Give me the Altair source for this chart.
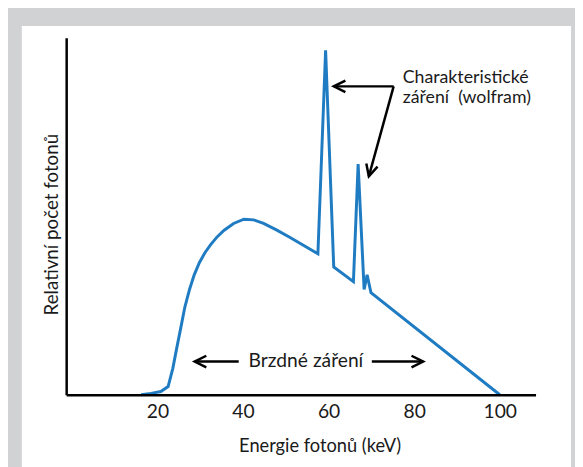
import math
import altair as alt
import pandas as pd

# ---- data ----
energy = [16.2, 18.5, 20.8, 22.5, 23.6, 24.5, 25.4, 26.4, 27.5, 28.6, 29.8, 31.1,
          32.4, 34.0, 35.6, 37.8, 40.2, 42.5, 44.8, 47.8, 50.8, 57.5, 59.3, 61.2,
          65.8, 66.9, 68.3, 69.0, 69.9, 100.0]
counts = [0.0, 0.4, 0.9, 2.3, 7.4, 13.0, 18.4, 24.5, 29.5, 33.6, 37.0, 39.8,
          42.0, 44.3, 46.1, 48.0, 49.2, 49.0, 48.0, 46.2, 44.2, 39.5, 96.5, 35.8,
          31.7, 64.6, 29.5, 33.6, 28.6, 0.0]
tick_values = [20, 40, 60, 80, 100]

x_title = "Energie fotonů (keV)"
y_title = "Relativní počet fotonů"
char_label = ["Charakteristické", "záření \u00a0(wolfram)"]
brems_label = "Brzdné záření"

# annotation arrows (tail -> tip) in data units
arrow_x1 = [75.2, 75.2, 39.0, 70.1]
arrow_y1 = [86.4, 86.4, 9.3, 9.3]
arrow_x2 = [61.2, 69.4, 28.7, 82.1]
arrow_y2 = [86.4, 61.2, 9.3, 9.3]

# ---- layout ----
W, H = 476, 362
XDOM = [-1.32, 108.36]
YDOM = [0, 100]
PAD = {"left": 59, "top": 27, "right": 40, "bottom": 70}
FONT = "Lato"
TXT = "#1a1a1a"

kx = W / (XDOM[1] - XDOM[0])
ky = H / (YDOM[1] - YDOM[0])

df = pd.DataFrame({"energy": energy, "count": counts})
arrows = pd.DataFrame({"x": arrow_x1, "y": arrow_y1, "x2": arrow_x2, "y2": arrow_y2})
arrows["angle"] = [
    (math.degrees(math.atan2(-(y2 - y1) * ky, (x2 - x1) * kx)) + 360) % 360
    for x1, y1, x2, y2 in zip(arrow_x1, arrow_y1, arrow_x2, arrow_y2)
]

xs = alt.Scale(domain=XDOM, nice=False, zero=False)
ys = alt.Scale(domain=YDOM, nice=False, zero=False)

panel = alt.Chart(pd.DataFrame({"a": [0]})).mark_rect(color="white").encode(
    x=alt.value(-45), x2=alt.value(512), y=alt.value(-12), y2=alt.value(440)
)

line = alt.Chart(df).mark_line(color="#1f7cc2", strokeWidth=3, strokeJoin="miter").encode(
    x=alt.X("energy:Q", scale=xs, title=x_title,
            axis=alt.Axis(values=tick_values, ticks=False, grid=False, domainColor="black",
                          domainWidth=2.5, labelFontSize=19.5, labelFont=FONT, labelColor=TXT,
                          labelPadding=8, titleFontSize=18.5, titleFont=FONT, titleColor=TXT,
                          titleFontWeight="normal", titleX=257, titleY=58, zindex=1,
                          titleBaseline="alphabetic", titleAlign="center")),
    y=alt.Y("count:Q", scale=ys, title=y_title,
            axis=alt.Axis(labels=False, ticks=False, grid=False, domainColor="black",
                          domainWidth=2.5, titleFontSize=19, titleFont=FONT, titleColor=TXT,
                          titleFontWeight="normal", titleAngle=270, titleX=-15, titleY=189,
                          titleAlign="center", titleBaseline="middle", zindex=1)),
)

shafts = alt.Chart(arrows).mark_rule(color="black", strokeWidth=2.5).encode(
    x=alt.X("x:Q", scale=xs), y=alt.Y("y:Q", scale=ys), x2="x2:Q", y2="y2:Q"
)

heads = alt.Chart(arrows).mark_point(
    shape="M -1 -0.5 L 0 0 L -1 0.5", filled=False, color="black", strokeWidth=2.5,
    size=560, opacity=1, strokeJoin="miter"
).encode(
    x=alt.X("x2:Q", scale=xs), y=alt.Y("y2:Q", scale=ys), angle=alt.Angle("angle:Q", scale=None)
)

char_text = alt.Chart(pd.DataFrame({"x": [77.3, 77.3], "y": [87.4, 81.6], "t": char_label})).mark_text(
    align="left", baseline="alphabetic", fontSize=18, font=FONT, color=TXT
).encode(x=alt.X("x:Q", scale=xs), y=alt.Y("y:Q", scale=ys), text="t:N")

brems_text = alt.Chart(pd.DataFrame({"x": [54.7], "y": [9.3], "t": [brems_label]})).mark_text(
    align="center", baseline="middle", fontSize=19.5, font=FONT, color=TXT
).encode(x=alt.X("x:Q", scale=xs), y=alt.Y("y:Q", scale=ys), text="t:N")

chart = alt.layer(panel, line, shafts, heads, char_text, brems_text).properties(
    width=W, height=H, autosize=alt.AutoSizeParams(type="none"), padding=PAD,
    background="#d1d2d4"
).configure_view(strokeWidth=0)

chart.save("out.html", embed_options={"renderer": "svg", "actions": False})
